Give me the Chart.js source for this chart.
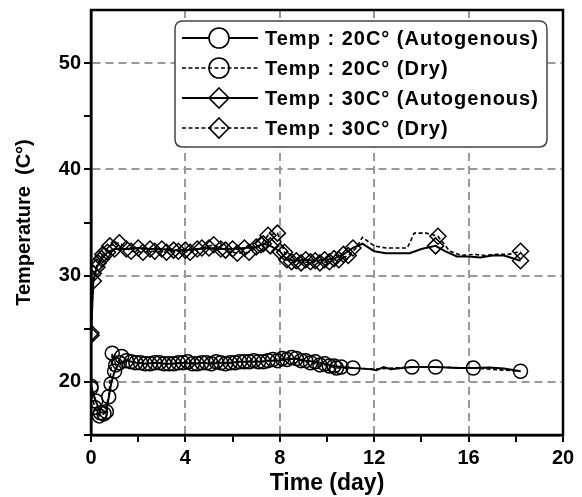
<!DOCTYPE html>
<html>
<head>
<meta charset="utf-8">
<script src="https://cdn.jsdelivr.net/npm/chart.js@4/dist/chart.umd.min.js"></script>
<style>
html,body{margin:0;padding:0;background:#fff;}
#wrap{width:582px;height:497px;position:relative;}
</style>
</head>
<body>
<div id="wrap"><canvas id="c" width="582" height="497"></canvas></div>
<script>
// ---------- data ----------
const seriesLabels = [
  'Temp : 20C\u00B0 (Autogenous)',
  'Temp : 20C\u00B0 (Dry)',
  'Temp : 30C\u00B0 (Autogenous)',
  'Temp : 30C\u00B0 (Dry)'
];

const days20A = [0, 0.2, 0.4, 0.65, 0.85, 1.0, 1.2, 1.5, 1.9, 2.3, 2.7, 3.1, 3.5, 3.9, 4.3, 4.7, 5.1, 5.5, 5.9, 6.3, 6.7, 7.1, 7.5, 7.9, 8.3, 8.7, 9.1, 9.5, 9.9, 10.3, 10.6, 11.1, 11.8, 12.1, 12.4, 12.7, 13.6, 14.6, 15.5, 16.2, 16.9, 17.5, 18.2];
const temp20A = [19.6, 18.2, 17.1, 17.2, 19.8, 21.0, 21.8, 22.0, 21.8, 21.7, 21.8, 21.7, 21.7, 21.8, 21.7, 21.8, 21.7, 21.8, 21.8, 21.9, 21.9, 21.9, 22.0, 22.0, 22.1, 22.2, 22.0, 21.9, 21.7, 21.5, 21.4, 21.3, 21.2, 21.1, 21.4, 21.2, 21.4, 21.4, 21.3, 21.3, 21.35, 21.25, 21.0];
const marked20A = [11.1, 13.6, 14.6, 16.2, 18.2];

const days20D = [0, 0.15, 0.35, 0.55, 0.75, 0.9, 1.05, 1.3, 1.7, 2.1, 2.5, 2.9, 3.3, 3.7, 4.1, 4.5, 4.9, 5.3, 5.7, 6.1, 6.5, 6.9, 7.3, 7.7, 8.1, 8.5, 8.9, 9.3, 9.7, 10.1, 10.4, 11.1, 12.0, 13.6, 14.6, 16.2, 18.2];
const temp20D = [19.4, 17.6, 16.8, 17.0, 18.6, 22.7, 21.6, 22.4, 21.9, 21.8, 21.7, 21.8, 21.7, 21.8, 21.9, 21.7, 21.8, 21.9, 21.7, 21.8, 21.9, 22.0, 21.9, 22.1, 22.2, 22.3, 22.0, 21.8, 21.6, 21.5, 21.3, 21.3, 21.2, 21.4, 21.4, 21.3, 21.0];
const marked20D = [];

const days30A = [0, 0.1, 0.25, 0.45, 0.7, 1.0, 1.5, 2.0, 2.5, 3.0, 3.5, 4.0, 4.5, 5.0, 5.5, 6.0, 6.5, 7.0, 7.3, 7.6, 8.0, 8.3, 8.7, 9.1, 9.5, 9.9, 10.3, 10.7, 11.1, 11.5, 12.0, 12.5, 13.0, 13.5, 14.0, 14.6, 15.0, 15.5, 16.0, 16.5, 17.0, 17.5, 18.2];
const temp30A = [24.4, 29.5, 30.8, 31.6, 32.2, 32.5, 32.5, 32.6, 32.5, 32.5, 32.4, 32.4, 32.5, 32.6, 32.5, 32.5, 32.6, 32.7, 33.0, 32.8, 32.3, 31.5, 31.4, 31.5, 31.4, 31.5, 31.6, 32.0, 32.6, 33.0, 32.3, 32.1, 32.1, 32.1, 32.5, 32.8, 32.3, 31.8, 31.8, 31.7, 31.9, 31.9, 31.4];
const marked30A = [11.1, 14.6, 18.2];

const days30D = [0, 0.1, 0.3, 0.5, 0.8, 1.2, 1.7, 2.2, 2.7, 3.2, 3.7, 4.2, 4.7, 5.2, 5.7, 6.2, 6.7, 7.2, 7.5, 7.9, 8.2, 8.5, 8.9, 9.3, 9.7, 10.1, 10.5, 10.9, 11.2, 11.5, 12.0, 12.5, 13.0, 13.4, 13.7, 14.2, 14.7, 15.2, 15.7, 16.2, 16.7, 17.2, 17.7, 18.2];
const temp30D = [24.6, 30.2, 31.2, 32.0, 32.8, 33.1, 32.3, 32.2, 32.3, 32.2, 32.3, 32.2, 32.6, 32.9, 32.4, 32.1, 32.2, 32.9, 33.8, 34.0, 32.2, 31.3, 31.2, 31.3, 31.2, 31.3, 31.5, 31.9, 32.5, 33.6, 32.8, 32.6, 32.6, 32.6, 34.0, 34.0, 33.7, 32.3, 31.9, 32.0, 31.9, 32.0, 32.0, 32.3];
const marked30D = [14.7, 18.2];

const denseUntil = 11.0;   // every reading before this day carries a symbol

const xTickLabels = [0, 4, 8, 12, 16, 20];
const yTickLabels = [20, 30, 40, 50];

// ---------- build chart ----------
const FONT = '"Liberation Sans", Arial, Helvetica, sans-serif';
const toPts = (xs, ys) => xs.map((x, i) => ({ x: x, y: ys[i] }));

function markerRadius(marked, r) {
  return (c) => {
    const raw = c.raw;
    if (!raw) return r;
    return (raw.x < denseUntil || marked.includes(raw.x)) ? r : 0;
  };
}

function makeSet(label, xs, ys, marked, style, dash) {
  const r = style === 'circle' ? 7 : 8;
  return {
    label: label,
    data: toPts(xs, ys),
    borderColor: '#000',
    borderWidth: dash ? 1.6 : 2,
    borderDash: dash ? [4, 2.5] : [],
    backgroundColor: 'rgba(0,0,0,0)',
    pointStyle: style === 'circle' ? 'circle' : 'rectRot',
    pointRadius: markerRadius(marked, r),
    pointHoverRadius: markerRadius(marked, r),
    pointBorderColor: '#000',
    pointBackgroundColor: 'rgba(0,0,0,0)',
    pointBorderWidth: 1.5,
    tension: 0,
    fill: false
  };
}

const datasets = [
  makeSet(seriesLabels[0], days20A, temp20A, marked20A, 'circle', false),
  makeSet(seriesLabels[1], days20D, temp20D, marked20D, 'circle', true),
  makeSet(seriesLabels[2], days30A, temp30A, marked30A, 'diamond', false),
  makeSet(seriesLabels[3], days30D, temp30D, marked30D, 'diamond', true)
];

const framePlugin = {
  id: 'frame',
  afterDatasetsDraw(chart) {
    const a = chart.chartArea, ctx = chart.ctx;
    ctx.save();
    ctx.strokeStyle = '#000';
    ctx.lineWidth = 2.5;
    ctx.setLineDash([]);
    ctx.strokeRect(a.left, a.top, a.right - a.left, a.bottom - a.top);
    ctx.restore();
  }
};

function roundRect(ctx, x, y, w, h, r) {
  ctx.beginPath();
  ctx.moveTo(x + r, y);
  ctx.lineTo(x + w - r, y);
  ctx.quadraticCurveTo(x + w, y, x + w, y + r);
  ctx.lineTo(x + w, y + h - r);
  ctx.quadraticCurveTo(x + w, y + h, x + w - r, y + h);
  ctx.lineTo(x + r, y + h);
  ctx.quadraticCurveTo(x, y + h, x, y + h - r);
  ctx.lineTo(x, y + r);
  ctx.quadraticCurveTo(x, y, x + r, y);
  ctx.closePath();
}

const legendPlugin = {
  id: 'boxLegend',
  afterDraw(chart) {
    const a = chart.chartArea, ctx = chart.ctx;
    const bx = a.left + 84, by = a.top + 11, bw = 372, bh = 126;
    ctx.save();
    roundRect(ctx, bx, by, bw, bh, 8);
    ctx.fillStyle = '#fff';
    ctx.fill();
    ctx.strokeStyle = '#444';
    ctx.lineWidth = 1.5;
    ctx.stroke();
    chart.data.datasets.forEach((ds, i) => {
      const y = by + 17 + i * 30;
      const x0 = bx + 7, x1 = bx + 83, xm = bx + 44;
      ctx.strokeStyle = '#000';
      ctx.lineWidth = ds.borderWidth;
      ctx.setLineDash(ds.borderDash || []);
      ctx.beginPath();
      ctx.moveTo(x0, y); ctx.lineTo(x1, y);
      ctx.stroke();
      ctx.setLineDash([]);
      ctx.lineWidth = 1.6;
      ctx.beginPath();
      if (ds.pointStyle === 'circle') {
        ctx.fillStyle = ds.borderDash.length ? 'rgba(0,0,0,0)' : '#fff';
        ctx.arc(xm, y, 10, 0, Math.PI * 2);
      } else {
        ctx.fillStyle = 'rgba(0,0,0,0)';
        ctx.moveTo(xm, y - 10); ctx.lineTo(xm + 10, y); ctx.lineTo(xm, y + 10); ctx.lineTo(xm - 10, y); ctx.closePath();
      }
      ctx.fill();
      ctx.stroke();
      ctx.fillStyle = '#000';
      ctx.font = 'bold 20px ' + FONT;
      try { ctx.letterSpacing = '1px'; } catch (e) {}
      ctx.textBaseline = 'middle';
      ctx.textAlign = 'left';
      ctx.fillText(ds.label, bx + 90, y + 1);
    });
    ctx.restore();
  }
};

const gray = '#9a9a9a';
const clear = 'rgba(0,0,0,0)';

new Chart(document.getElementById('c'), {
  type: 'line',
  data: { datasets: datasets },
  options: {
    responsive: false,
    animation: false,
    devicePixelRatio: 1,
    layout: { padding: { left: 0, right: 19, top: 10, bottom: 0 } },
    plugins: { legend: { display: false }, tooltip: { enabled: false } },
    scales: {
      x: {
        type: 'linear', min: 0, max: 20,
        afterBuildTicks: (s) => { s.ticks = [0,2,4,6,8,10,12,14,16,18,20].map(v => ({ value: v })); },
        ticks: {
          color: '#000', padding: 4, maxRotation: 0, autoSkip: false,
          font: { family: FONT, size: 20, weight: 'bold' },
          callback: (v) => xTickLabels.includes(v) ? String(v) : ''
        },
        grid: {
          color: (c) => (c.tick && c.tick.value % 4 === 0 && c.tick.value > 0 && c.tick.value < 20) ? gray : clear,
          lineWidth: 2, drawTicks: true, tickLength: 7, tickColor: '#000', tickWidth: 2
        },
        border: { color: '#000', width: 2.5, dash: [8, 5] },
        title: { display: true, text: 'Time (day)', color: '#000', font: { family: FONT, size: 23, weight: 'bold' }, padding: { top: 0, bottom: 0 } },
        afterFit: (s) => { s.height = 62; s.paddingLeft = 0; s.paddingRight = 0; }
      },
      y: {
        type: 'linear', min: 15, max: 55,
        afterBuildTicks: (s) => { s.ticks = [15,20,25,30,35,40,45,50].map(v => ({ value: v })); },
        ticks: {
          color: '#000', padding: 3,
          font: { family: FONT, size: 20, weight: 'bold' },
          callback: (v) => yTickLabels.includes(v) ? String(v) : ''
        },
        grid: {
          color: (c) => (c.tick && yTickLabels.includes(c.tick.value)) ? gray : clear,
          lineWidth: 2, drawTicks: true, tickLength: 7, tickColor: '#000', tickWidth: 2
        },
        border: { color: '#000', width: 2.5, dash: [8, 5] },
        title: { display: true, text: 'Temperature  (C\u00B0)', color: '#000', font: { family: FONT, size: 20, weight: 'bold' }, padding: { top: 12, bottom: 0 } },
        afterFit: (s) => { s.width = 91; s.paddingTop = 0; s.paddingBottom = 0; }
      }
    }
  },
  plugins: [framePlugin, legendPlugin]
});
</script>
</body>
</html>
